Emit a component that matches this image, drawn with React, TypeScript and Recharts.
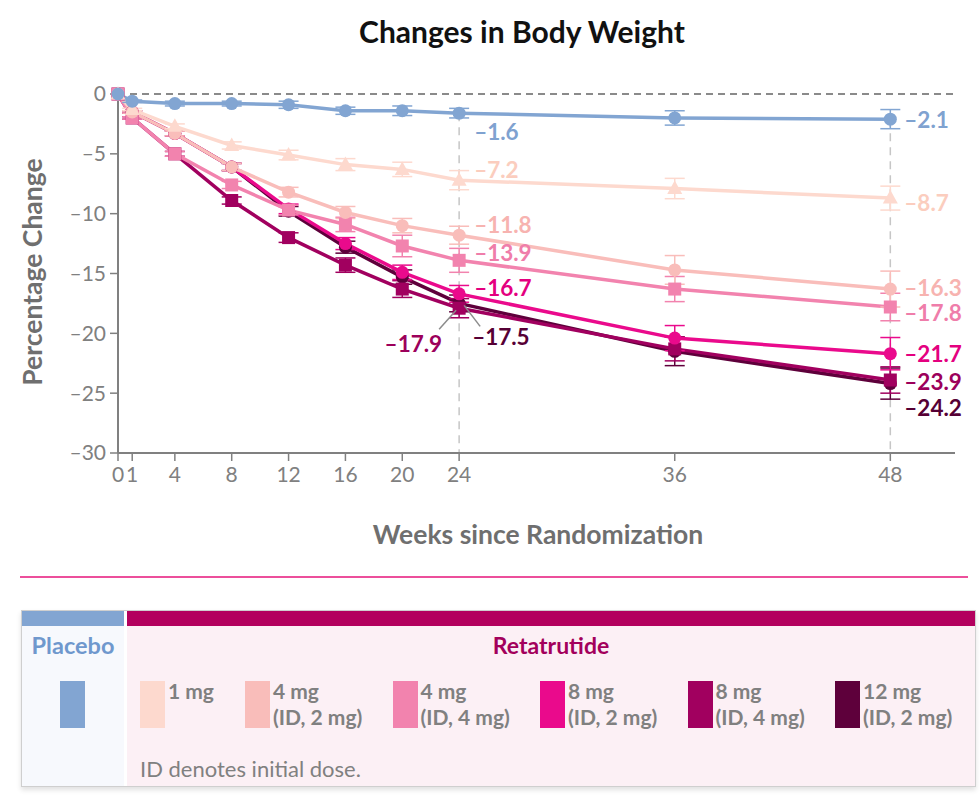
import React from "react";
import { LineChart, Line, XAxis, YAxis, ReferenceLine, ErrorBar, LabelList } from "recharts";

// weeks since randomization and mean % change in body weight
const weeks = [0, 1, 4, 8, 12, 16, 20, 24, 36, 48];
const yTicks = [0, -5, -10, -15, -20, -25, -30];

const placebo = [0, -0.6, -0.8, -0.8, -0.9, -1.4, -1.4, -1.6, -2.0, -2.1];
const reta1 = [0, -1.3, -2.7, -4.3, -5.1, -5.9, -6.3, -7.2, -7.9, -8.7];
const reta4id2 = [0, -1.5, -3.3, -6.1, -8.2, -9.9, -11.0, -11.8, -14.7, -16.3];
const reta4id4 = [0, -2.0, -5.0, -7.6, -9.7, -10.9, -12.7, -13.9, -16.3, -17.8];
const reta8id2 = [0, -1.5, -3.3, -6.1, -9.6, -12.5, -14.9, -16.7, -20.4, -21.7];
const reta8id4 = [0, -2.0, -5.0, -8.9, -12.0, -14.3, -16.3, -17.9, -21.3, -23.9];
const reta12id2 = [0, -1.5, -3.3, -6.1, -9.8, -12.8, -15.3, -17.5, -21.5, -24.2];

// half-width of the error bars
const placeboErr = [0, 0.1, 0.2, 0.2, 0.3, 0.3, 0.4, 0.4, 0.6, 0.8];
const reta1Err = [0, 0.1, 0.2, 0.3, 0.4, 0.5, 0.6, 0.8, 0.85, 1.0];
const reta4id2Err = [0, 0.1, 0.2, 0.3, 0.4, 0.5, 0.6, 0.75, 1.2, 1.5];
const reta4id4Err = [0, 0.1, 0.2, 0.3, 0.4, 0.6, 0.9, 1.0, 1.05, 1.15];
const reta8id2Err = [0, 0.1, 0.2, 0.3, 0.4, 0.5, 0.6, 0.7, 1.05, 1.35];
const reta8id4Err = [0, 0.1, 0.2, 0.3, 0.4, 0.6, 0.7, 0.8, 1.0, 1.1];
const reta12id2Err = [0, 0.1, 0.2, 0.3, 0.4, 0.5, 0.6, 0.7, 1.2, 1.3];

const doseNames = ["1 mg", "4 mg", "4 mg", "8 mg", "8 mg", "12 mg"];
const doseNotes = ["", "(ID, 2 mg)", "(ID, 4 mg)", "(ID, 2 mg)", "(ID, 4 mg)", "(ID, 2 mg)"];

const values: Record<string, number[]> = { placebo, reta1, reta4id2, reta4id4, reta8id2, reta8id4, reta12id2 };
const errors: Record<string, number[]> = {
  placebo: placeboErr,
  reta1: reta1Err,
  reta4id2: reta4id2Err,
  reta4id4: reta4id4Err,
  reta8id2: reta8id2Err,
  reta8id4: reta8id4Err,
  reta12id2: reta12id2Err,
};

const look: Record<string, { color: string; text: string; shape: string }> = {
  placebo: { color: "#82A5D2", text: "#7FA2D0", shape: "circle" },
  reta1: { color: "#FDD9CE", text: "#FBCDBE", shape: "triangle" },
  reta4id2: { color: "#F9BDBA", text: "#F7B3B0", shape: "circle" },
  reta4id4: { color: "#F283AE", text: "#EF7DAA", shape: "square" },
  reta8id2: { color: "#EA0A8C", text: "#E4007F", shape: "circle" },
  reta8id4: { color: "#A1005F", text: "#9C005B", shape: "square" },
  reta12id2: { color: "#5E003B", text: "#560035", shape: "circle" },
};

const retaKeys = ["reta1", "reta4id2", "reta4id4", "reta8id2", "reta8id4", "reta12id2"];
const drawOrder = ["reta12id2", "reta8id4", "reta8id2", "reta4id4", "reta4id2", "reta1", "placebo"];

// value tags at week 24 (index 7) and week 48 (index 9)
type Tag = { dx: number; dy: number; anchor?: string; leader?: number[] };
const tags: Record<string, Record<number, Tag>> = {
  placebo: { 7: { dx: 15, dy: 18 }, 9: { dx: 14, dy: 0 } },
  reta1: { 7: { dx: 15, dy: -11 }, 9: { dx: 14, dy: 4 } },
  reta4id2: { 7: { dx: 15, dy: -11 }, 9: { dx: 14, dy: -2 } },
  reta4id4: { 7: { dx: 15, dy: -8 }, 9: { dx: 14, dy: 5 } },
  reta8id2: { 7: { dx: 15, dy: -6 }, 9: { dx: 14, dy: 0 } },
  reta8id4: { 7: { dx: -17, dy: 35, anchor: "end", leader: [-3, 2, -20, 21] }, 9: { dx: 14, dy: 1 } },
  reta12id2: { 7: { dx: 13, dy: 33, leader: [5, 2, 21, 23] }, 9: { dx: 14, dy: 24 } },
};

// the original stretches weeks after 24
const LATE_STRETCH = 1.264;
const axisPos = (w: number) => (w <= 24 ? w : 24 + (w - 24) * LATE_STRETCH);

const rows = weeks.map((w, i) => {
  const row: Record<string, number> = { pos: axisPos(w), week: w };
  Object.keys(values).forEach((k) => {
    row[k] = values[k][i];
    row[k + "Err"] = errors[k][i];
  });
  return row;
});

const dash = (v: number) => (v < 0 ? "\u2013" + Math.abs(v) : String(v));
const fmt = (v: number) => (v < 0 ? "\u2013" + Math.abs(v).toFixed(1) : v.toFixed(1));

const GRAY = "#808080";

function Marker({ cx, cy, shape, color }: any) {
  if (cx == null || cy == null) return null;
  if (shape === "square") return <rect x={cx - 6.5} y={cy - 6.5} width={13} height={13} fill={color} />;
  if (shape === "triangle")
    return <path d={`M${cx},${cy - 8} L${cx + 7.5},${cy + 5.5} L${cx - 7.5},${cy + 5.5} Z`} fill={color} />;
  return <circle cx={cx} cy={cy} r={6.5} fill={color} />;
}

function tagRenderer(key: string) {
  return (props: any) => {
    const { x, y, value, index } = props;
    const t = tags[key][index];
    if (!t || x == null) return null;
    return (
      <g key={`tag-${key}-${index}`}>
        {t.leader && (
          <line
            x1={x + t.leader[0]}
            y1={y + t.leader[1]}
            x2={x + t.leader[2]}
            y2={y + t.leader[3]}
            stroke="#8c8c8c"
            strokeWidth={1.5}
          />
        )}
        <text
          x={x + t.dx}
          y={y + t.dy}
          textAnchor={t.anchor || "start"}
          dominantBaseline="central"
          fill={look[key].text}
          fontSize={22.5}
          fontWeight={700}
        >
          {fmt(Number(value))}
        </text>
      </g>
    );
  };
}

export default function App() {
  return (
    <div style={{ position: "absolute", left: 0, top: 0, width: 980, height: 795, fontFamily: "Lato, sans-serif", background: "#fff" }}>
      <div style={{ position: "absolute", top: 13, left: 0, width: 1044, textAlign: "center", fontSize: 30, fontWeight: 700, color: "#111", lineHeight: "36px" }}>
        Changes in Body Weight
      </div>
      <div
        style={{
          position: "absolute",
          left: 32 - 150,
          top: 272 - 17,
          width: 300,
          height: 34,
          lineHeight: "34px",
          textAlign: "center",
          transform: "rotate(-90deg)",
          fontSize: 26.5,
          fontWeight: 700,
          color: "#6f6f6f",
        }}
      >
        Percentage Change
      </div>
      <div style={{ position: "absolute", left: 238, top: 517, width: 600, textAlign: "center", fontSize: 26.5, fontWeight: 700, color: "#6f6f6f", lineHeight: "34px" }}>
        Weeks since Randomization
      </div>

      <div style={{ position: "absolute", left: 0, top: 0 }}>
        <LineChart width={980} height={560} data={rows} margin={{ top: 94, right: 25, bottom: 67, left: 58 }}>
          <XAxis
            dataKey="pos"
            type="number"
            domain={[0, axisPos(51.6)]}
            ticks={weeks.map(axisPos)}
            interval={0}
            tickFormatter={(_v: number, i: number) => String(weeks[i])}
            tickSize={8}
            tickMargin={6}
            height={40}
            axisLine={{ stroke: GRAY, strokeWidth: 2 }}
            tickLine={{ stroke: GRAY, strokeWidth: 1.5 }}
            tick={{ fill: GRAY, fontSize: 21 }}
          />
          <YAxis
            type="number"
            domain={[-30, 0]}
            ticks={yTicks}
            interval={0}
            width={60}
            tickFormatter={dash}
            tickSize={8}
            tickMargin={4}
            axisLine={{ stroke: GRAY, strokeWidth: 2 }}
            tickLine={{ stroke: GRAY, strokeWidth: 1.5 }}
            tick={{ fill: GRAY, fontSize: 21 }}
          />
          <ReferenceLine y={0} stroke="#8a8a8a" strokeWidth={2} strokeDasharray="7 5" />
          <ReferenceLine
            segment={[
              { x: axisPos(24), y: placebo[7] },
              { x: axisPos(24), y: -30 },
            ]}
            stroke="#c6c6c6"
            strokeWidth={1.5}
            strokeDasharray="8 6"
          />
          <ReferenceLine
            segment={[
              { x: axisPos(48), y: placebo[9] },
              { x: axisPos(48), y: -30 },
            ]}
            stroke="#c6c6c6"
            strokeWidth={1.5}
            strokeDasharray="8 6"
          />
          {drawOrder.map((key) => (
            <Line
              key={key}
              dataKey={key}
              type="linear"
              stroke={look[key].color}
              strokeWidth={3.5}
              isAnimationActive={false}
              dot={(p: any) => <Marker key={`${key}-dot-${p.index}`} cx={p.cx} cy={p.cy} shape={look[key].shape} color={look[key].color} />}
              activeDot={false}
            >
              <ErrorBar dataKey={key + "Err"} width={10} stroke={look[key].color} strokeWidth={1.5} direction="y" />
              <LabelList dataKey={key} content={tagRenderer(key)} />
            </Line>
          ))}
        </LineChart>
      </div>

      <div style={{ position: "absolute", left: 20, top: 576, width: 948, height: 2, background: "#EC4F9B" }} />

      <div
        style={{
          position: "absolute",
          left: 21,
          top: 610,
          width: 953,
          height: 175,
          border: "1px solid #cfcfcf",
          boxShadow: "0 3px 5px rgba(0,0,0,0.12)",
          background: "#fff",
        }}
      >
        <div style={{ position: "absolute", left: 0, top: 0, width: 102, height: 175, background: "#F7F9FD" }}>
          <div style={{ height: 15, background: look.placebo.color }} />
          <div style={{ position: "absolute", top: 20, width: 102, textAlign: "center", fontSize: 23.5, fontWeight: 700, color: "#6F98CD", lineHeight: "28px" }}>
            Placebo
          </div>
          <div style={{ position: "absolute", left: 38, top: 70, width: 25, height: 47, background: look.placebo.color }} />
        </div>
        <div style={{ position: "absolute", left: 105, top: 0, right: 0, height: 175, background: "#FCF0F5" }}>
          <div style={{ height: 15, background: "#B3005E" }} />
          <div style={{ position: "absolute", top: 20, left: 0, right: 0, textAlign: "center", fontSize: 23, fontWeight: 700, color: "#A3005C", lineHeight: "28px" }}>
            Retatrutide
          </div>
          <div style={{ position: "absolute", left: 13, top: 70, display: "flex" }}>
            {retaKeys.map((k, i) => (
              <div key={k} style={{ display: "flex", width: i === 0 ? 105 : 147.5 }}>
                <div style={{ width: 25, height: 47, background: look[k].color, flex: "none" }} />
                <div style={{ marginLeft: 3, fontSize: 21, fontWeight: 700, color: GRAY, lineHeight: "26px", marginTop: -3, whiteSpace: "nowrap" }}>
                  <div>{doseNames[i]}</div>
                  <div>{doseNotes[i]}</div>
                </div>
              </div>
            ))}
          </div>
          <div style={{ position: "absolute", left: 13, top: 144, fontSize: 22, color: GRAY, lineHeight: "28px" }}>
            ID denotes initial dose.
          </div>
        </div>
      </div>
    </div>
  );
}
